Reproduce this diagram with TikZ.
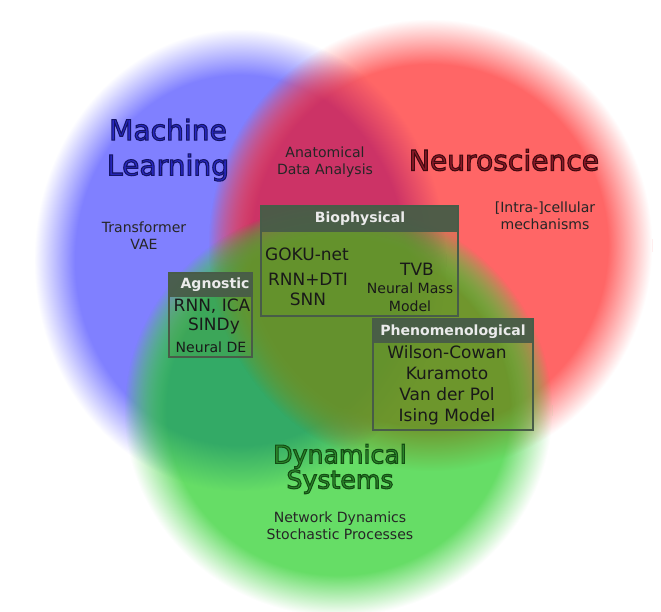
\documentclass[tikz,border=0pt]{standalone}
\usepackage{fontspec}
\setmainfont{DejaVu Sans}
\usetikzlibrary{fadings}

\definecolor{mlblue}{RGB}{128,128,255}
\definecolor{nsred}{RGB}{255,102,102}
\definecolor{dsgreen}{RGB}{102,221,102}
\definecolor{mlns}{RGB}{204,51,102}
\definecolor{mlds}{RGB}{51,170,102}
\definecolor{nsds}{RGB}{112,150,45}
\definecolor{allthree}{RGB}{100,145,45}
\definecolor{boxgrey}{RGB}{72,92,72}
\definecolor{boxfill}{RGB}{100,150,40}
\definecolor{mltext}{RGB}{40,40,195}
\definecolor{nstext}{RGB}{140,25,40}
\definecolor{dstext}{RGB}{45,140,45}

% soft edged disc, opaque inside
\pgfdeclareradialshading{blobshade}{\pgfpointorigin}{%
  color(0bp)=(pgftransparent!0); color(40bp)=(pgftransparent!0);
  color(45bp)=(pgftransparent!50); color(50bp)=(pgftransparent!100)}
\pgfdeclarefading{blob}{\pgfuseshading{blobshade}}

% mask a scope with a blob: centre x, y and radii in px
\newcommand\blobmask[4]{%
  \pgfsetfading{blob}{\pgftransformshift{\pgfpointxy{#1}{#2}}%
    \pgftransformxscale{#3*0.017008}\pgftransformyscale{#4*0.017008}}}
\newcommand\mlmask{\blobmask{240}{260}{206}{231}}
\newcommand\nsmask{\blobmask{430}{245}{222}{226}}
\newcommand\dsmask{\blobmask{338}{410}{214}{206}}

% filled text with a dark outline
\newcommand\outlined[2]{%
  \special{pdf:literal direct q 2 Tr 0.9 w #1 RG}#2\special{pdf:literal direct Q}}

\tikzset{
  title/.style={font=\fontsize{24}{30}\selectfont, align=center, inner sep=0pt},
  label/.style={font=\fontsize{12}{14.5}\selectfont, align=center, text=black!85, inner sep=0pt},
  boxbody/.style={fill=boxfill, fill opacity=.2},
  boxframe/.style={draw=boxgrey, line width=2.5pt},
  boxhead/.style={fill=boxgrey, fill opacity=.95},
  head/.style={font=\bfseries\fontsize{12}{14}\selectfont, text=white!92!black, inner sep=0pt},
  item/.style={font=\fontsize{14.5}{17.9}\selectfont, align=center, text=black!90, inner sep=0pt},
  smallitem/.style={font=\fontsize{12}{15.3}\selectfont, align=center, text=black!90, inner sep=0pt}
}

\begin{document}
\begin{tikzpicture}[x=0.3mm, y=-0.3mm]
    \useasboundingbox (0,0) rectangle (661,612);
    \fill[white] (0,0) rectangle (661,612);

    % the three fields
    \begin{scope}
        \mlmask
        \fill[mlblue] (0,0) rectangle (661,612);
    \end{scope}
    \begin{scope}
        \nsmask
        \fill[nsred] (0,0) rectangle (661,612);
    \end{scope}
    \begin{scope}
        \dsmask
        \fill[dsgreen] (0,0) rectangle (661,612);
    \end{scope}

    % overlaps of two fields
    \begin{scope}
        \mlmask
        \begin{scope}[transparency group]
            \nsmask
            \fill[mlns] (0,0) rectangle (661,612);
        \end{scope}
    \end{scope}
    \begin{scope}
        \mlmask
        \begin{scope}[transparency group]
            \dsmask
            \fill[mlds] (0,0) rectangle (661,612);
        \end{scope}
    \end{scope}
    \begin{scope}
        \nsmask
        \begin{scope}[transparency group]
            \dsmask
            \fill[nsds] (0,0) rectangle (661,612);
        \end{scope}
    \end{scope}

    % overlap of all three
    \begin{scope}
        \mlmask
        \begin{scope}[transparency group]
            \nsmask
            \begin{scope}[transparency group]
                \dsmask
                \fill[allthree] (0,0) rectangle (661,612);
            \end{scope}
        \end{scope}
    \end{scope}

    % field names
    \node[title, text=mltext] (ml) at (168,150) {\outlined{0.08 0.08 0.4}{Machine\\Learning}};
    \node[title, text=nstext] (ns) at (504,160) {\outlined{0.25 0.04 0.06}{Neuroscience}};
    \node[title, text=dstext, font=\fontsize{21.5}{19}\selectfont] (ds) at (340,469)
        {\outlined{0.08 0.3 0.08}{Dynamical\\Systems}};

    \node[label] (anat) at (325,162) {Anatomical\\Data Analysis};
    \node[label] (trans) at (144,236) {Transformer\\VAE};
    \node[label] (intra) at (545,216) {[Intra-]cellular\\mechanisms};
    \node[label] (netdyn) at (340,526) {Network Dynamics\\Stochastic Processes};

    % Biophysical box
    \fill[boxbody] (260,205) rectangle (459,317);
    \draw[boxframe] (261,206) rectangle (458,316);
    \fill[boxhead] (260,205) rectangle (459,232);
    \node[head] (biohead) at (360,219) {Biophysical};
    \node[item] (goku) at (307,254) {GOKU-net};
    \node[item] (rnndti) at (308,279) {RNN+DTI};
    \node[item] (snn) at (308,299) {SNN};
    \node[item] (tvb) at (417,269) {TVB};
    \node[smallitem] (nmm) at (410,297) {Neural Mass\\Model};

    % Agnostic box
    \fill[boxbody] (168,272) rectangle (253,358);
    \draw[boxframe] (169,273) rectangle (252,357);
    \fill[boxhead] (168,272) rectangle (253,297);
    \node[head] (agnhead) at (215,285) {Agnostic};
    \node[item] (rnnica) at (212,306) {RNN, ICA};
    \node[item] (sindy) at (214,326) {SINDy};
    \node[smallitem] (nde) at (211,347) {Neural DE};

    % Phenomenological box
    \fill[boxbody] (372,318) rectangle (534,431);
    \draw[boxframe] (373,319) rectangle (533,430);
    \fill[boxhead] (372,318) rectangle (534,343);
    \node[head] (phenhead) at (453,332) {Phenomenological};
    \node[item] (phenlist) at (447,385) {Wilson-Cowan\\Kuramoto\\Van der Pol\\Ising Model};
\end{tikzpicture}
\end{document}
